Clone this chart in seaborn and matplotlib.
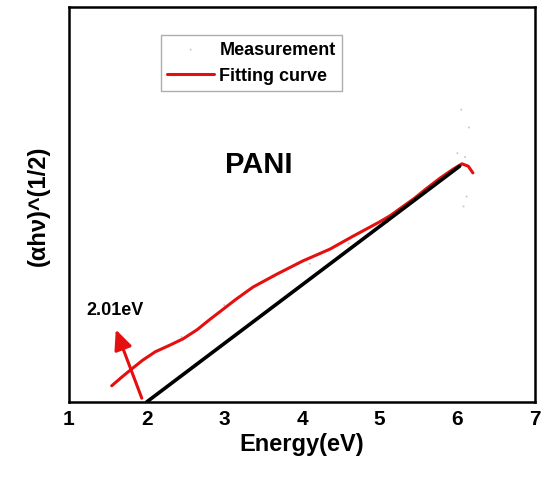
import numpy as np
import pandas as pd
import matplotlib
matplotlib.use("Agg")
import matplotlib.pyplot as plt
import seaborn as sns

# fitted curve (y in arbitrary units, 0..100)
fit_energy = [1.55, 1.68, 1.81, 1.95, 2.11, 2.30, 2.47, 2.65, 2.82, 2.94,
              3.15, 3.37, 3.68, 4.01, 4.36, 4.66, 5.00, 5.13, 5.45, 5.60,
              5.78, 5.95, 6.06, 6.14, 6.20]
fit_value = [4.1, 6.3, 8.4, 10.6, 12.7, 14.4, 16.0, 18.3, 21.0, 22.8,
             26.0, 29.1, 32.4, 35.7, 38.7, 42.0, 45.6, 47.1, 51.6, 54.0,
             56.7, 59.0, 60.3, 59.7, 58.0]

# faint measurement points
meas_energy = [2.45, 3.00, 3.55, 4.10, 4.60, 5.10, 5.55, 5.70, 5.85, 6.00,
               6.10, 6.15, 6.05, 6.12, 6.08]
meas_value = [16.5, 24.5, 31.2, 35.0, 40.2, 45.5, 53.0, 55.2, 57.5, 63.0,
              62.0, 69.5, 74.0, 52.0, 49.5]

# tangent (linear extrapolation) and band gap
tangent_energy = [2.00, 6.03]
tangent_value = [0.0, 59.7]
gap_energy = 2.01

fit_df = pd.DataFrame({"energy": fit_energy, "value": fit_value})
meas_df = pd.DataFrame({"energy": meas_energy, "value": meas_value})
tan_df = pd.DataFrame({"energy": tangent_energy, "value": tangent_value})

sns.set_theme(style="white")
plt.rcParams["font.family"] = ["Liberation Sans", "DejaVu Sans"]
plt.rcParams["text.color"] = "black"
plt.rcParams["axes.labelcolor"] = "black"
plt.rcParams["xtick.color"] = "black"

fig = plt.figure(figsize=(5.42, 4.81), dpi=100)
ax = fig.add_axes([0.1273, 0.1622, 0.8598, 0.8212])

sns.scatterplot(data=meas_df, x="energy", y="value", ax=ax, s=2,
                color="#c8c8c8", edgecolor="none", label="Measurement")
sns.lineplot(data=fit_df, x="energy", y="value", ax=ax, color="#e41010",
             lw=2.2, label="Fitting curve", sort=False)
sns.lineplot(data=tan_df, x="energy", y="value", ax=ax, color="black",
             lw=2.6, legend=False)

ax.annotate("", xy=(1.59, 19.0), xytext=(1.95, 0.3),
            arrowprops=dict(arrowstyle="-|>,head_length=1.0,head_width=0.45",
                            color="#e41010", lw=2.2))
ax.text(1.22, 23.3, f"{gap_energy:.2f}eV", fontsize=13, fontweight="bold",
        va="center", ha="left")
ax.text(3.01, 60.3, "PANI", fontsize=21, fontweight="bold", ha="left",
        va="center")

ax.set_xlim(1, 7)
ax.set_ylim(0, 100)
ax.set_xticks(range(1, 8))
ax.set_xticks(np.arange(1.5, 7, 1), minor=True)
ax.set_yticks([])
ax.tick_params(axis="x", which="major", direction="in", length=6, width=1.8,
               labelsize=15, pad=5)
ax.tick_params(axis="x", which="minor", direction="in", length=3.5, width=1.5)
for lab in ax.get_xticklabels():
    lab.set_fontweight("bold")
for sp in ax.spines.values():
    sp.set_linewidth(1.8)
    sp.set_color("black")

ax.set_xlabel("Energy(eV)", fontsize=17, fontweight="bold", labelpad=3)
ax.set_ylabel("(\u03b1h\u03bd)^(1/2)", fontsize=17, fontweight="bold",
              labelpad=14)

leg = ax.legend(loc="upper left", bbox_to_anchor=(0.197, 0.929), frameon=True,
                fancybox=False, fontsize=13, handlelength=2.6,
                handletextpad=0.3, borderpad=0.35, labelspacing=0.5,
                borderaxespad=0)
leg.get_frame().set_edgecolor("#999999")
leg.get_frame().set_linewidth(1.0)
for t in leg.get_texts():
    t.set_fontweight("bold")

fig.savefig("out.png", dpi=100)
